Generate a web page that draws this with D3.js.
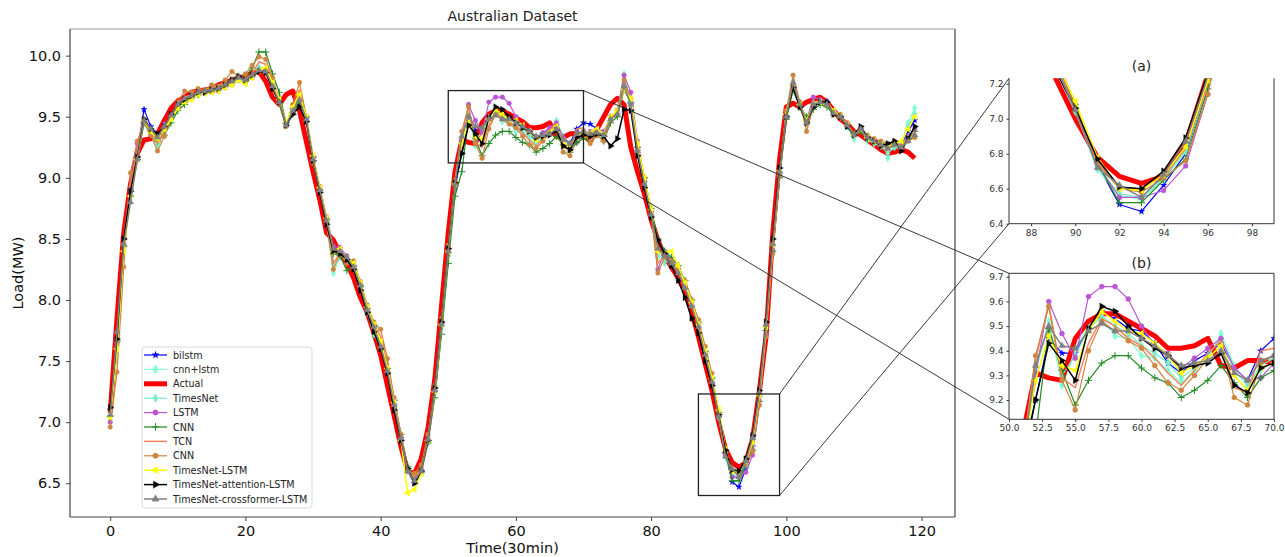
<!DOCTYPE html>
<html>
<head>
<meta charset="utf-8">
<script src="https://cdn.jsdelivr.net/npm/d3@7"></script>
<style>
  body { margin: 0; background: #fff; font-family: "DejaVu Sans", sans-serif; }
</style>
</head>
<body>
<div id="chart"></div>
<script>
const width = 1285;
const height = 557;

// x positions are 0..119 (half-hour steps)
const steps = d3.range(120);

// Data
const actual = [
  7.08, 7.85, 8.55, 8.95, 9.2, 9.31, 9.32, 9.36, 9.47, 9.57,
  9.63, 9.66, 9.7, 9.71, 9.72, 9.73, 9.76, 9.78, 9.8, 9.82,
  9.83, 9.86, 9.87, 9.79, 9.66, 9.6, 9.68, 9.71, 9.55, 9.3,
  9.05, 8.82, 8.55, 8.49, 8.38, 8.3, 8.18, 8.02, 7.9, 7.73,
  7.55, 7.3, 7.05, 6.8, 6.6, 6.58, 6.7, 6.95, 7.35, 7.95,
  8.55, 9.05, 9.31, 9.29, 9.28, 9.45, 9.52, 9.55, 9.55, 9.52,
  9.49, 9.46, 9.41, 9.41, 9.42, 9.45, 9.34, 9.33, 9.36, 9.36,
  9.35, 9.3, 9.4, 9.5, 9.6, 9.65, 9.6, 9.25, 9.05, 8.87,
  8.66, 8.49, 8.36, 8.27, 8.18, 8.08, 7.9, 7.7, 7.48, 7.26,
  7.0, 6.78, 6.67, 6.63, 6.67, 6.86, 7.25, 7.7, 8.55, 9.15,
  9.58, 9.61, 9.58, 9.62, 9.64, 9.66, 9.62, 9.55, 9.48, 9.44,
  9.38, 9.35, 9.31, 9.27, 9.23, 9.2, 9.21, 9.23, 9.21, 9.16
];
const bilstm = [
  7.1, 7.7, 8.5, 8.9, 9.2, 9.56, 9.42, 9.35, 9.43, 9.52,
  9.6, 9.65, 9.68, 9.7, 9.71, 9.72, 9.74, 9.76, 9.79, 9.81,
  9.8, 9.84, 9.88, 9.88, 9.76, 9.63, 9.44, 9.56, 9.63, 9.48,
  9.16, 8.9, 8.66, 8.4, 8.4, 8.33, 8.27, 8.1, 7.9, 7.78,
  7.62, 7.4, 7.14, 6.87, 6.6, 6.5, 6.58, 6.84, 7.25, 7.8,
  8.38, 8.92, 9.2, 9.45, 9.39, 9.39, 9.49, 9.56, 9.53, 9.49,
  9.48, 9.43, 9.35, 9.31, 9.36, 9.39, 9.43, 9.33, 9.28, 9.4,
  9.45, 9.44, 9.4, 9.36, 9.5, 9.52, 9.74, 9.6, 9.22, 8.96,
  8.72, 8.47, 8.36, 8.3, 8.22, 8.1, 7.95, 7.77, 7.55, 7.32,
  7.04, 6.74, 6.51, 6.47, 6.62, 6.8, 7.2, 7.78, 8.44, 9.04,
  9.5, 9.75, 9.6, 9.46, 9.6, 9.62, 9.6, 9.53, 9.49, 9.42,
  9.35, 9.4, 9.33, 9.29, 9.26, 9.25, 9.27, 9.27, 9.38, 9.47
];
const cnnLstm = [
  7.02, 7.55, 8.42, 8.85, 9.15, 9.45, 9.33, 9.25, 9.4, 9.5,
  9.58, 9.63, 9.66, 9.69, 9.7, 9.72, 9.72, 9.75, 9.78, 9.82,
  9.78, 9.84, 9.9, 9.9, 9.77, 9.64, 9.44, 9.56, 9.68, 9.46,
  9.14, 8.88, 8.62, 8.22, 8.35, 8.32, 8.25, 8.08, 7.88, 7.7,
  7.6, 7.4, 7.12, 6.85, 6.6, 6.52, 6.6, 6.84, 7.24, 7.78,
  8.38, 8.94, 9.31, 9.52, 9.26, 9.4, 9.5, 9.53, 9.46, 9.45,
  9.38, 9.37, 9.32, 9.27, 9.32, 9.36, 9.47, 9.34, 9.27, 9.32,
  9.36, 9.35, 9.38, 9.32, 9.5, 9.55, 9.85, 9.62, 9.2, 8.95,
  8.7, 8.35, 8.3, 8.3, 8.25, 8.12, 7.96, 7.8, 7.56, 7.34,
  7.03, 6.71, 6.56, 6.54, 6.65, 6.81, 7.2, 7.8, 8.45, 9.05,
  9.52, 9.78, 9.62, 9.45, 9.62, 9.62, 9.63, 9.55, 9.5, 9.42,
  9.32, 9.38, 9.3, 9.28, 9.25, 9.16, 9.24, 9.28, 9.45, 9.57
];
const timesNet = [
  7.05, 7.62, 8.45, 8.86, 9.16, 9.47, 9.36, 9.28, 9.41, 9.5,
  9.59, 9.64, 9.66, 9.69, 9.7, 9.71, 9.73, 9.75, 9.78, 9.81,
  9.79, 9.83, 9.89, 9.88, 9.76, 9.63, 9.44, 9.55, 9.66, 9.47,
  9.15, 8.89, 8.64, 8.3, 8.37, 8.33, 8.26, 8.1, 7.9, 7.72,
  7.61, 7.41, 7.13, 6.86, 6.6, 6.53, 6.6, 6.85, 7.25, 7.79,
  8.39, 8.94, 9.33, 9.5, 9.3, 9.38, 9.49, 9.54, 9.5, 9.47,
  9.42, 9.39, 9.35, 9.29, 9.33, 9.38, 9.45, 9.32, 9.26, 9.34,
  9.37, 9.36, 9.38, 9.33, 9.49, 9.53, 9.82, 9.6, 9.21, 8.95,
  8.7, 8.38, 8.32, 8.3, 8.24, 8.11, 7.96, 7.79, 7.56, 7.34,
  7.04, 6.72, 6.57, 6.55, 6.66, 6.82, 7.21, 7.79, 8.45, 9.05,
  9.51, 9.77, 9.61, 9.45, 9.61, 9.62, 9.62, 9.54, 9.5, 9.42,
  9.33, 9.39, 9.31, 9.28, 9.26, 9.2, 9.25, 9.27, 9.42, 9.52
];
const lstm = [
  7.0, 7.65, 8.45, 8.92, 9.28, 9.48, 9.38, 9.33, 9.44, 9.5,
  9.58, 9.63, 9.65, 9.68, 9.69, 9.7, 9.71, 9.74, 9.76, 9.8,
  9.78, 9.82, 9.87, 9.88, 9.76, 9.63, 9.44, 9.56, 9.64, 9.5,
  9.18, 8.93, 8.68, 8.44, 8.43, 8.36, 8.29, 8.13, 7.93, 7.78,
  7.62, 7.4, 7.14, 6.87, 6.6, 6.52, 6.62, 6.87, 7.26, 7.8,
  8.4, 8.95, 9.3, 9.6, 9.47, 9.37, 9.62, 9.66, 9.66, 9.61,
  9.5, 9.42, 9.39, 9.33, 9.37, 9.41, 9.45, 9.33, 9.28, 9.29,
  9.35, 9.38, 9.4, 9.38, 9.5, 9.55, 9.84, 9.7, 9.3, 9.0,
  8.72, 8.25, 8.4, 8.32, 8.26, 8.13, 7.98, 7.8, 7.57, 7.36,
  7.06, 6.74, 6.55, 6.55, 6.59, 6.73, 7.14, 7.72, 8.4, 9.02,
  9.5, 9.76, 9.62, 9.47, 9.66, 9.64, 9.63, 9.55, 9.5, 9.43,
  9.35, 9.4, 9.33, 9.3, 9.27, 9.25, 9.28, 9.26, 9.34, 9.4
];
const cnn = [
  7.05, 7.66, 8.44, 8.85, 9.15, 9.45, 9.38, 9.3, 9.35, 9.45,
  9.55, 9.6, 9.65, 9.68, 9.7, 9.72, 9.74, 9.77, 9.8, 9.83,
  9.82, 9.9, 10.03, 10.03, 9.85, 9.7, 9.45, 9.52, 9.62, 9.5,
  9.17, 8.9, 8.66, 8.38, 8.36, 8.24, 8.28, 8.12, 7.93, 7.78,
  7.64, 7.44, 7.18, 6.9, 6.64, 6.55, 6.6, 6.83, 7.2, 7.72,
  8.3, 8.85, 9.05, 9.49, 9.32, 9.18, 9.28, 9.35, 9.38, 9.38,
  9.33, 9.29, 9.27, 9.21, 9.24, 9.28, 9.34, 9.27, 9.21, 9.29,
  9.32, 9.3, 9.35, 9.3, 9.45, 9.5, 9.72, 9.62, 9.25, 9.0,
  8.75, 8.5, 8.4, 8.35, 8.28, 8.16, 8.0, 7.82, 7.58, 7.36,
  7.08, 6.75, 6.52, 6.52, 6.65, 6.77, 7.17, 7.75, 8.4, 9.0,
  9.48, 9.72, 9.58, 9.5, 9.56, 9.6, 9.58, 9.52, 9.5, 9.43,
  9.36, 9.38, 9.32, 9.3, 9.28, 9.26, 9.28, 9.25, 9.32, 9.38
];
const tcn = [
  7.06, 7.64, 8.5, 8.95, 9.22, 9.5, 9.38, 9.28, 9.38, 9.5,
  9.6, 9.66, 9.68, 9.7, 9.72, 9.74, 9.75, 9.77, 9.8, 9.84,
  9.81, 9.85, 9.95, 9.93, 9.8, 9.65, 9.43, 9.57, 9.72, 9.5,
  9.16, 8.9, 8.64, 8.3, 8.38, 8.33, 8.3, 8.15, 7.95, 7.8,
  7.7, 7.48, 7.18, 6.9, 6.62, 6.55, 6.62, 6.86, 7.26, 7.82,
  8.42, 8.98, 9.36, 9.59, 9.29, 9.25, 9.43, 9.53, 9.5, 9.45,
  9.42, 9.37, 9.31, 9.26, 9.32, 9.39, 9.44, 9.25, 9.23, 9.4,
  9.41, 9.3, 9.38, 9.33, 9.48, 9.52, 9.78, 9.62, 9.22, 8.96,
  8.7, 8.3, 8.36, 8.32, 8.26, 8.14, 7.98, 7.8, 7.57, 7.35,
  7.06, 6.75, 6.6, 6.6, 6.67, 6.83, 7.2, 7.78, 8.45, 9.06,
  9.54, 9.8, 9.6, 9.42, 9.6, 9.63, 9.62, 9.55, 9.5, 9.42,
  9.35, 9.4, 9.32, 9.3, 9.28, 9.24, 9.26, 9.26, 9.34, 9.38
];
const cnn2 = [
  6.96, 7.41, 8.27, 9.04, 9.3, 9.45, 9.35, 9.22, 9.34, 9.48,
  9.62, 9.71, 9.7, 9.73, 9.72, 9.76, 9.75, 9.8, 9.87, 9.83,
  9.85, 9.92, 9.99, 9.97, 9.82, 9.6, 9.42, 9.6, 9.78, 9.5,
  9.12, 8.88, 8.62, 8.25, 8.38, 8.3, 8.32, 8.15, 7.96, 7.82,
  7.76, 7.52, 7.2, 6.9, 6.6, 6.58, 6.65, 6.9, 7.3, 7.85,
  8.45, 8.98, 9.38, 9.58, 9.28, 9.16, 9.4, 9.52, 9.48, 9.44,
  9.41, 9.34, 9.27, 9.24, 9.3, 9.37, 9.42, 9.21, 9.18, 9.35,
  9.38, 9.28, 9.35, 9.3, 9.48, 9.55, 9.8, 9.65, 9.25, 8.98,
  8.72, 8.22, 8.35, 8.32, 8.25, 8.16, 8.0, 7.84, 7.62, 7.4,
  7.08, 6.76, 6.6, 6.58, 6.66, 6.76, 7.14, 7.7, 8.38, 9.02,
  9.55, 9.84, 9.62, 9.38, 9.58, 9.62, 9.6, 9.55, 9.52, 9.45,
  9.36, 9.4, 9.35, 9.32, 9.3, 9.28, 9.3, 9.26, 9.3, 9.33
];
const timesNetLstm = [
  7.04, 7.6, 8.4, 8.85, 9.15, 9.47, 9.38, 9.32, 9.4, 9.48,
  9.57, 9.62, 9.64, 9.68, 9.69, 9.7, 9.71, 9.74, 9.76, 9.8,
  9.77, 9.82, 9.88, 9.9, 9.78, 9.64, 9.45, 9.58, 9.68, 9.5,
  9.18, 8.92, 8.67, 8.4, 8.42, 8.34, 8.3, 8.14, 7.94, 7.8,
  7.66, 7.44, 7.16, 6.85, 6.42, 6.45, 6.58, 6.85, 7.25, 7.8,
  8.4, 8.95, 9.28, 9.46, 9.34, 9.32, 9.48, 9.56, 9.52, 9.48,
  9.47, 9.43, 9.38, 9.31, 9.34, 9.37, 9.42, 9.3, 9.24, 9.33,
  9.35, 9.37, 9.4, 9.36, 9.5, 9.55, 9.72, 9.65, 9.28, 9.0,
  8.74, 8.4, 8.38, 8.4, 8.28, 8.14, 7.98, 7.8, 7.58, 7.36,
  7.1, 6.78, 6.6, 6.59, 6.68, 6.84, 7.22, 7.78, 8.45, 9.06,
  9.52, 9.76, 9.6, 9.47, 9.6, 9.62, 9.6, 9.55, 9.5, 9.43,
  9.35, 9.4, 9.33, 9.3, 9.27, 9.25, 9.28, 9.3, 9.4, 9.5
];
const timesNetAttLstm = [
  7.12, 7.68, 8.5, 8.89, 9.17, 9.48, 9.4, 9.36, 9.42, 9.52,
  9.6, 9.64, 9.67, 9.7, 9.7, 9.72, 9.73, 9.76, 9.8, 9.83,
  9.8, 9.84, 9.87, 9.86, 9.73, 9.62, 9.43, 9.52, 9.58, 9.46,
  9.14, 8.88, 8.62, 8.4, 8.38, 8.33, 8.25, 8.08, 7.9, 7.74,
  7.6, 7.4, 7.1, 6.85, 6.62, 6.5, 6.6, 6.85, 7.28, 7.82,
  8.42, 8.96, 9.2, 9.43, 9.36, 9.28, 9.49, 9.58, 9.56, 9.5,
  9.45, 9.41, 9.38, 9.33, 9.34, 9.35, 9.39, 9.26, 9.23, 9.33,
  9.35, 9.34, 9.36, 9.34, 9.26, 9.32, 9.56, 9.55, 9.18, 8.92,
  8.68, 8.49, 8.38, 8.28, 8.16, 8.02, 7.85, 7.73, 7.5, 7.3,
  7.06, 6.77, 6.61, 6.6, 6.7, 6.89, 7.26, 7.82, 8.5, 9.08,
  9.5, 9.74, 9.58, 9.45, 9.58, 9.62, 9.62, 9.52, 9.5, 9.42,
  9.35, 9.42, 9.33, 9.3, 9.26, 9.28, 9.3, 9.22, 9.32, 9.42
];
const timesNetCrossLstm = [
  7.06, 7.74, 8.46, 8.8, 9.15, 9.47, 9.4, 9.33, 9.42, 9.51,
  9.6, 9.65, 9.67, 9.7, 9.71, 9.72, 9.73, 9.76, 9.79, 9.82,
  9.8, 9.84, 9.88, 9.87, 9.75, 9.62, 9.43, 9.55, 9.64, 9.48,
  9.15, 8.9, 8.65, 8.42, 8.4, 8.35, 8.27, 8.12, 7.92, 7.78,
  7.62, 7.42, 7.14, 6.87, 6.6, 6.52, 6.6, 6.86, 7.26, 7.8,
  8.4, 8.95, 9.34, 9.5, 9.42, 9.41, 9.48, 9.51, 9.48, 9.48,
  9.45, 9.42, 9.38, 9.34, 9.35, 9.36, 9.4, 9.31, 9.28, 9.36,
  9.38, 9.36, 9.37, 9.35, 9.48, 9.52, 9.75, 9.6, 9.22, 8.95,
  8.7, 8.42, 8.36, 8.3, 8.22, 8.1, 7.95, 7.78, 7.55, 7.33,
  7.05, 6.72, 6.62, 6.55, 6.68, 6.87, 7.24, 7.8, 8.46, 9.05,
  9.5, 9.78, 9.6, 9.45, 9.6, 9.62, 9.6, 9.53, 9.5, 9.43,
  9.35, 9.4, 9.33, 9.3, 9.27, 9.24, 9.27, 9.25, 9.3, 9.35
];

const xTicks = [0, 20, 40, 60, 80, 100, 120];
const yTicks = [6.5, 7.0, 7.5, 8.0, 8.5, 9.0, 9.5, 10.0];
const aXTicks = [88, 90, 92, 94, 96, 98];
const aYTicks = [6.4, 6.6, 6.8, 7.0, 7.2];
const bXTicks = [50, 52.5, 55, 57.5, 60, 62.5, 65, 67.5, 70];
const bYTicks = [9.2, 9.3, 9.4, 9.5, 9.6, 9.7];

// plotting order = legend order
const series = [
  {name: "bilstm", values: bilstm, color: "#0000ff", marker: "star", lw: 1.2},
  {name: "cnn+lstm", values: cnnLstm, color: "#7fffd4", marker: "diamond", lw: 1.2},
  {name: "Actual", values: actual, color: "#ff0000", marker: null, lw: 5},
  {name: "TimesNet", values: timesNet, color: "#76eec6", marker: "diamond", lw: 1.2},
  {name: "LSTM", values: lstm, color: "#ba55d3", marker: "circle", lw: 1.2},
  {name: "CNN", values: cnn, color: "#228b22", marker: "plus", lw: 1.2},
  {name: "TCN", values: tcn, color: "#f4845f", marker: null, lw: 1.5},
  {name: "CNN", values: cnn2, color: "#cd853f", marker: "circle", lw: 1.2},
  {name: "TimesNet-LSTM", values: timesNetLstm, color: "#ffff00", marker: "left", lw: 1.5},
  {name: "TimesNet-attention-LSTM", values: timesNetAttLstm, color: "#000000", marker: "right", lw: 1.5},
  {name: "TimesNet-crossformer-LSTM", values: timesNetCrossLstm, color: "#808080", marker: "up", lw: 1.5}
];

function markerPath(type, size) {
  if (type === "plus") {
    const s = Math.sqrt(size) * 0.7;
    return `M${-s},0H${s}M0,${-s}V${s}`;
  }
  const sym = {star: d3.symbolStar, diamond: d3.symbolDiamond, circle: d3.symbolCircle,
    left: d3.symbolTriangle, right: d3.symbolTriangle, up: d3.symbolTriangle}[type];
  // stars look bigger than the rest at the same area
  return d3.symbol(sym, type === "star" ? size * 0.7 : size)();
}
function markerRotate(type) {
  if (type === "left") return " rotate(-90)";
  if (type === "right") return " rotate(90)";
  return "";
}

const svg = d3.select("#chart").append("svg")
  .attr("width", width)
  .attr("height", height);

svg.append("rect").attr("width", width).attr("height", height).attr("fill", "#fff");

// draw all series inside a panel
function drawSeries(g, xs, ys, msize) {
  series.forEach(function (s) {
    const line = d3.line()
      .x(function (d, i) { return xs(steps[i]); })
      .y(function (d) { return ys(d); });
    g.append("path")
      .datum(s.values)
      .attr("d", line)
      .attr("fill", "none")
      .attr("stroke", s.color)
      .attr("stroke-width", s.lw)
      .attr("stroke-linejoin", "round");
    if (s.marker) {
      const p = markerPath(s.marker, s.marker === "plus" ? 26 : msize);
      g.selectAll(null)
        .data(s.values)
        .enter()
        .append("path")
        .attr("d", p)
        .attr("transform", function (d, i) {
          return "translate(" + xs(steps[i]) + "," + ys(d) + ")" + markerRotate(s.marker);
        })
        .attr("fill", s.marker === "plus" ? "none" : s.color)
        .attr("stroke", s.color)
        .attr("stroke-width", s.marker === "plus" ? 1 : 0.3);
    }
  });
}

// ---------- main chart ----------
const main = {left: 70, right: 955, top: 29, bottom: 517};
const x = d3.scaleLinear().domain([-5.95, 124.95]).range([main.left, main.right]);
const y = d3.scaleLinear().domain([6.224, 10.218]).range([main.bottom, main.top]);

svg.append("clipPath").attr("id", "clipMain").append("rect")
  .attr("x", main.left).attr("y", main.top)
  .attr("width", main.right - main.left).attr("height", main.bottom - main.top);

const mainG = svg.append("g").attr("clip-path", "url(#clipMain)");
drawSeries(mainG, x, y, 18);

// spines
svg.append("line").attr("x1", main.left).attr("x2", main.right).attr("y1", main.top).attr("y2", main.top)
  .attr("stroke", "#9a9a9a").attr("stroke-width", 1);
svg.append("line").attr("x1", main.left).attr("x2", main.left).attr("y1", main.top).attr("y2", main.bottom)
  .attr("stroke", "#444").attr("stroke-width", 1.2);
svg.append("line").attr("x1", main.right).attr("x2", main.right).attr("y1", main.top).attr("y2", main.bottom)
  .attr("stroke", "#444").attr("stroke-width", 1.2);
svg.append("line").attr("x1", main.left).attr("x2", main.right).attr("y1", main.bottom).attr("y2", main.bottom)
  .attr("stroke", "#444").attr("stroke-width", 1.2);

const xAxis = svg.append("g")
  .attr("transform", "translate(0," + main.bottom + ")")
  .call(d3.axisBottom(x).tickValues(xTicks).tickSize(4).tickSizeOuter(0).tickPadding(5));
const yAxis = svg.append("g")
  .attr("transform", "translate(" + main.left + ",0)")
  .call(d3.axisLeft(y).tickValues(yTicks).tickFormat(d3.format(".1f")).tickSize(4).tickSizeOuter(0).tickPadding(5));
[xAxis, yAxis].forEach(function (a) {
  a.select(".domain").remove();
  a.selectAll(".tick line").attr("stroke", "#444");
  a.selectAll("text").attr("font-size", "14.5px").attr("fill", "#111")
    .attr("font-family", "DejaVu Sans, sans-serif");
});

svg.append("text").attr("x", (main.left + main.right) / 2).attr("y", 21)
  .attr("text-anchor", "middle").attr("font-size", "14px").attr("fill", "#222")
  .text("Australian Dataset");
svg.append("text").attr("x", (main.left + main.right) / 2).attr("y", 553)
  .attr("text-anchor", "middle").attr("font-size", "14.5px").attr("fill", "#111")
  .text("Time(30min)");
svg.append("text").attr("transform", "translate(23," + ((main.top + main.bottom) / 2) + ") rotate(-90)")
  .attr("text-anchor", "middle").attr("font-size", "14.5px").attr("fill", "#111")
  .text("Load(MW)");

// ---------- legend ----------
const legend = svg.append("g").attr("transform", "translate(142,347)");
legend.append("rect").attr("width", 170).attr("height", 161).attr("rx", 3)
  .attr("fill", "#fff").attr("fill-opacity", 0.85).attr("stroke", "#d8d8d8");
series.forEach(function (s, i) {
  const ly = 8 + i * 14.4;
  legend.append("line").attr("x1", 2).attr("x2", 25).attr("y1", ly).attr("y2", ly)
    .attr("stroke", s.color).attr("stroke-width", s.lw);
  if (s.marker) {
    legend.append("path")
      .attr("d", markerPath(s.marker, s.marker === "plus" ? 30 : 24))
      .attr("transform", "translate(13.5," + ly + ")" + markerRotate(s.marker))
      .attr("fill", s.marker === "plus" ? "none" : s.color)
      .attr("stroke", s.color).attr("stroke-width", s.marker === "plus" ? 1 : 0.3);
  }
  legend.append("text").attr("x", 31).attr("y", ly + 3.5)
    .attr("font-size", "9.6px").attr("fill", "#222").text(s.name);
});

// ---------- insets ----------
const insets = [
  {id: "a", title: "(a)", left: 1009, right: 1274, top: 78.3, bottom: 223.7,
   xd: [87, 99], yd: [6.4, 7.231], xt: aXTicks, yt: aYTicks, xf: d3.format("d"), topSpine: false, ty: 71},
  {id: "b", title: "(b)", left: 1009, right: 1274, top: 273.3, bottom: 419.3,
   xd: [50, 70], yd: [9.122, 9.714], xt: bXTicks, yt: bYTicks, xf: d3.format(".1f"), topSpine: true, ty: 268}
];

insets.forEach(function (ins) {
  const ix = d3.scaleLinear().domain(ins.xd).range([ins.left, ins.right]);
  const iy = d3.scaleLinear().domain(ins.yd).range([ins.bottom, ins.top]);

  // zoom box on main chart and connector lines
  const bx0 = x(ins.xd[0]), bx1 = x(ins.xd[1]), by0 = y(ins.yd[1]), by1 = y(ins.yd[0]);
  svg.append("rect").attr("x", bx0).attr("y", by0).attr("width", bx1 - bx0).attr("height", by1 - by0)
    .attr("fill", "none").attr("stroke", "#222").attr("stroke-width", 1.3);
  svg.append("line").attr("x1", bx1).attr("y1", by0).attr("x2", ins.left).attr("y2", ins.top)
    .attr("stroke", "#222").attr("stroke-width", 0.9);
  svg.append("line").attr("x1", bx1).attr("y1", by1).attr("x2", ins.left).attr("y2", ins.bottom)
    .attr("stroke", "#222").attr("stroke-width", 0.9);

  svg.append("rect").attr("x", ins.left).attr("y", ins.top)
    .attr("width", ins.right - ins.left).attr("height", ins.bottom - ins.top).attr("fill", "#fff");

  svg.append("clipPath").attr("id", "clip" + ins.id).append("rect")
    .attr("x", ins.left).attr("y", ins.top)
    .attr("width", ins.right - ins.left).attr("height", ins.bottom - ins.top);
  const g = svg.append("g").attr("clip-path", "url(#clip" + ins.id + ")");
  drawSeries(g, ix, iy, 20);

  const sp = "#333";
  if (ins.topSpine) {
    svg.append("line").attr("x1", ins.left).attr("x2", ins.right).attr("y1", ins.top).attr("y2", ins.top)
      .attr("stroke", sp).attr("stroke-width", 1);
  }
  svg.append("line").attr("x1", ins.left).attr("x2", ins.left).attr("y1", ins.top).attr("y2", ins.bottom)
    .attr("stroke", sp).attr("stroke-width", 1);
  svg.append("line").attr("x1", ins.right).attr("x2", ins.right).attr("y1", ins.top).attr("y2", ins.bottom)
    .attr("stroke", sp).attr("stroke-width", 1);
  svg.append("line").attr("x1", ins.left).attr("x2", ins.right).attr("y1", ins.bottom).attr("y2", ins.bottom)
    .attr("stroke", sp).attr("stroke-width", 1);

  const ax = svg.append("g").attr("transform", "translate(0," + ins.bottom + ")")
    .call(d3.axisBottom(ix).tickValues(ins.xt).tickFormat(ins.xf).tickSize(2.5).tickSizeOuter(0).tickPadding(3));
  const ay = svg.append("g").attr("transform", "translate(" + ins.left + ",0)")
    .call(d3.axisLeft(iy).tickValues(ins.yt).tickFormat(d3.format(".1f")).tickSize(2.5).tickSizeOuter(0).tickPadding(3));
  [ax, ay].forEach(function (a) {
    a.select(".domain").remove();
    a.selectAll(".tick line").attr("stroke", sp);
    a.selectAll("text").attr("font-size", "9px").attr("fill", "#333")
      .attr("font-family", "DejaVu Sans, sans-serif");
  });

  svg.append("text").attr("x", (ins.left + ins.right) / 2).attr("y", ins.ty)
    .attr("text-anchor", "middle").attr("font-size", "14px").attr("fill", "#222")
    .text(ins.title);
});
</script>
</body>
</html>
